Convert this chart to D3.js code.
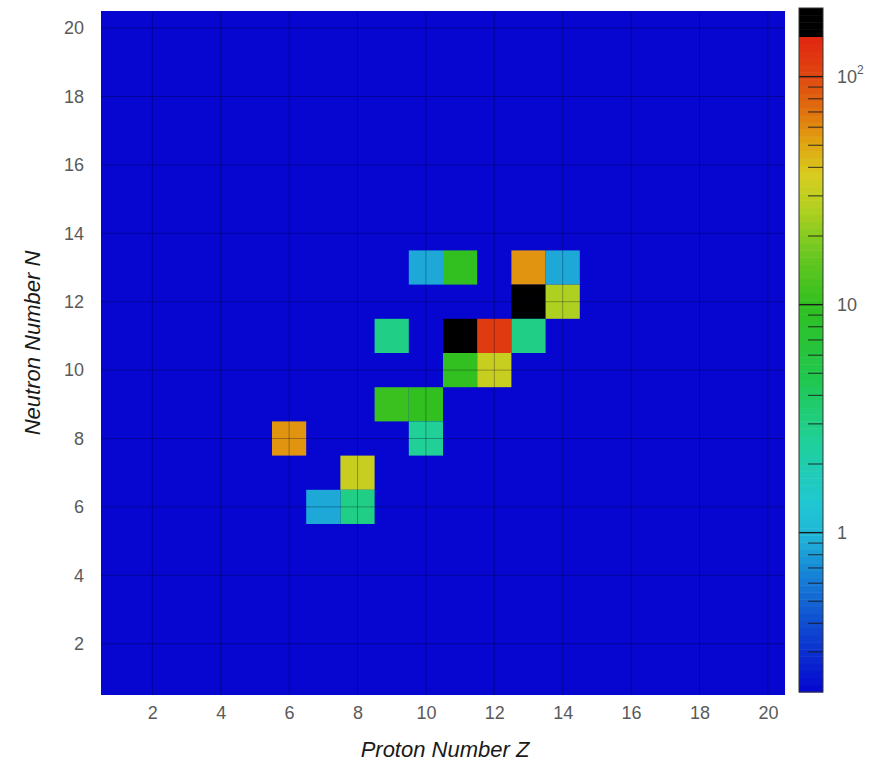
<!DOCTYPE html>
<html>
<head>
<meta charset="utf-8">
<script src="https://cdn.jsdelivr.net/npm/d3@7"></script>
<style>
  body { margin: 0; background: #fff; }
  text { font-family: "Liberation Sans", Arial, sans-serif; }
</style>
</head>
<body>
<svg id="chart" width="883" height="770"></svg>
<script>
// Nuclide yields on the (Z, N) chart: one entry per populated cell
const protonZ  = [10, 11, 13, 14, 13, 14, 9, 11, 12, 13, 11, 12, 9, 10, 6, 10, 8, 7, 8];
const neutronN = [13, 13, 13, 13, 12, 12, 11, 11, 11, 11, 10, 10, 9, 9, 8, 8, 7, 6, 6];
const counts   = [0.9, 10, 58, 0.9, 180, 25, 3, 180, 120, 3, 10, 33, 11, 10, 58, 2.5, 33, 0.9, 3];

const axisTicks = [2, 4, 6, 8, 10, 12, 14, 16, 18, 20];
const colorDomain = [0.2, 200];
const colorMajorTicks = [1, 10, 100];
const colorMinorTicks = [0.3, 0.4, 0.5, 0.6, 0.7, 0.8, 0.9,
                         2, 3, 4, 5, 6, 7, 8, 9,
                         20, 30, 40, 50, 60, 70, 80, 90];

// Palette stops along the normalised log scale (0 = bottom, 1 = top)
const paletteStops = [0, 0.105, 0.178, 0.232, 0.281, 0.368, 0.456, 0.566, 0.646, 0.705, 0.756, 0.807, 0.851, 0.90, 0.955];
const paletteColors = ["#0606d0", "#1050d0", "#1888d8", "#20b8d8", "#20c8d0", "#20d098", "#20c850",
                       "#30c020", "#70c820", "#b0d020", "#d8cc20", "#e0a010", "#e07010", "#e04810", "#e02810"];
const overflowStart = 0.958;
const nLevels = 96;

const svg = d3.select("#chart");

const plot = { left: 101, right: 785, top: 11, bottom: 695 };
const bar  = { left: 799, right: 823, top: 8, bottom: 692 };

const x = d3.scaleLinear().domain([0.5, 20.5]).range([plot.left, plot.right]);
const y = d3.scaleLinear().domain([0.5, 20.5]).range([plot.bottom, plot.top]);

const logNorm = d3.scaleLog().domain(colorDomain).range([0, 1]).clamp(true);
const ramp = d3.scaleLinear().domain(paletteStops).range(paletteColors).clamp(true);

function colorAtT(t) {
  const q = Math.min(nLevels - 1, Math.floor(t * nLevels));
  const tc = (q + 0.5) / nLevels;
  return tc >= overflowStart ? "#000000" : ramp(tc);
}
const colorOf = v => colorAtT(logNorm(v));

// Plot background = empty cells
svg.append("rect")
  .attr("x", plot.left).attr("y", plot.top)
  .attr("width", plot.right - plot.left).attr("height", plot.bottom - plot.top)
  .attr("fill", "#0606d0");

// Populated cells
const cells = protonZ.map((z, i) => ({ z, n: neutronN[i], v: counts[i] }));
svg.append("g").selectAll("rect").data(cells).join("rect")
  .attr("x", d => x(d.z - 0.5))
  .attr("y", d => y(d.n + 0.5))
  .attr("width", d => x(d.z + 0.5) - x(d.z - 0.5))
  .attr("height", d => y(d.n - 0.5) - y(d.n + 0.5))
  .attr("fill", d => colorOf(d.v));

// Grid at the labelled (even) values
const grid = svg.append("g").attr("stroke", "#000020").attr("stroke-opacity", 0.3).attr("stroke-width", 1);
grid.selectAll("line.v").data(axisTicks).join("line").attr("class", "v")
  .attr("x1", d => x(d)).attr("x2", d => x(d))
  .attr("y1", plot.top).attr("y2", plot.bottom);
grid.selectAll("line.h").data(axisTicks).join("line").attr("class", "h")
  .attr("y1", d => y(d)).attr("y2", d => y(d))
  .attr("x1", plot.left).attr("x2", plot.right);

// Axes (labels only, no domain line or tick marks)
const xAxis = svg.append("g")
  .attr("transform", `translate(0,${plot.bottom})`)
  .call(d3.axisBottom(x).tickValues(axisTicks).tickSize(0).tickPadding(11));
const yAxis = svg.append("g")
  .attr("transform", `translate(${plot.left},0)`)
  .call(d3.axisLeft(y).tickValues(axisTicks).tickSize(0).tickPadding(17));
[xAxis, yAxis].forEach(a => {
  a.select(".domain").remove();
  a.selectAll("text")
    .attr("font-family", "Liberation Sans, Arial, sans-serif")
    .attr("font-size", 18).attr("fill", "#5a5a5a");
});

svg.append("text")
  .attr("x", (plot.left + plot.right) / 2 + 2).attr("y", 757)
  .attr("text-anchor", "middle")
  .attr("font-size", 22).attr("font-style", "italic").attr("fill", "#1a1a1a")
  .text("Proton Number Z");

svg.append("text")
  .attr("transform", `translate(40,${(plot.top + plot.bottom) / 2 - 10}) rotate(-90)`)
  .attr("text-anchor", "middle")
  .attr("font-size", 22).attr("font-style", "italic").attr("fill", "#1a1a1a")
  .text("Neutron Number N");

// Colour bar
const barY = d3.scaleLog().domain(colorDomain).range([bar.bottom, bar.top]);
const bands = d3.range(nLevels);
const bandH = (bar.bottom - bar.top) / nLevels;
svg.append("g").selectAll("rect").data(bands).join("rect")
  .attr("x", bar.left)
  .attr("y", d => bar.bottom - (d + 1) * bandH)
  .attr("width", bar.right - bar.left)
  .attr("height", bandH + 0.5)
  .attr("fill", d => colorAtT((d + 0.5) / nLevels));

svg.append("g").attr("stroke", "#1a1a1a").attr("stroke-width", 1.2).attr("stroke-opacity", 0.75)
  .selectAll("line").data(colorMinorTicks).join("line")
  .attr("x1", bar.left + 9).attr("x2", bar.right)
  .attr("y1", d => barY(d)).attr("y2", d => barY(d));
svg.append("g").attr("stroke", "#1a1a1a").attr("stroke-width", 1.4)
  .selectAll("line").data(colorMajorTicks).join("line")
  .attr("x1", bar.left).attr("x2", bar.right)
  .attr("y1", d => barY(d)).attr("y2", d => barY(d));

svg.append("rect")
  .attr("x", bar.left).attr("y", bar.top)
  .attr("width", bar.right - bar.left).attr("height", bar.bottom - bar.top)
  .attr("fill", "none").attr("stroke", "#333").attr("stroke-width", 1);

const barLabels = svg.append("g").attr("font-size", 18).attr("fill", "#5a5a5a");
colorMajorTicks.forEach(v => {
  const t = barLabels.append("text")
    .attr("x", bar.right + 14).attr("y", barY(v) + 6);
  const exp = Math.round(Math.log10(v));
  if (exp >= 2) {
    t.text("10");
    t.append("tspan").attr("dy", -9).attr("font-size", 12).text(String(exp));
  } else {
    t.text(String(v));
  }
});
</script>
</body>
</html>
